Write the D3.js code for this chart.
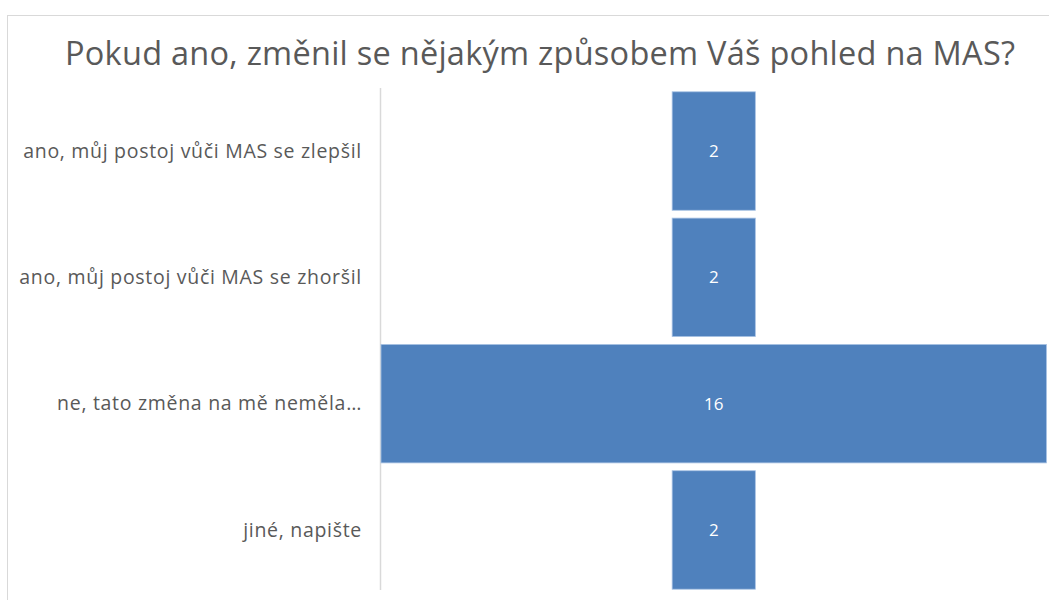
<!DOCTYPE html>
<html>
<head>
<meta charset="utf-8">
<script src="https://cdn.jsdelivr.net/npm/d3@7"></script>
<style>
  body { margin: 0; background: #fff; }
  text { font-family: "Open Sans", sans-serif; }
</style>
</head>
<body>
<svg id="chart" width="1049" height="600"></svg>
<script>
const title = 'Pokud ano, změnil se nějakým způsobem Váš pohled na MAS?';
const categories = [
  'ano, můj postoj vůči MAS se zlepšil',
  'ano, můj postoj vůči MAS se zhoršil',
  'ne, tato změna na mě neměla…',
  'jiné, napište'
];
const values = [2, 2, 16, 2];

const svg = d3.select('#chart');
const W = 1049, H = 600;

// chart frame
svg.append('rect')
  .attr('x', 7.5).attr('y', 15.5)
  .attr('width', W + 10).attr('height', H + 10)
  .attr('fill', '#fff').attr('stroke', '#d9d9d9');

svg.append('text')
  .attr('x', 540).attr('y', 65)
  .attr('text-anchor', 'middle')
  .attr('fill', '#595959')
  .style('font-size', '32.5px')
  .attr('textLength', 950)
  .text(title);

const plot = { left: 381, right: 1046.5, top: 88, bottom: 593 };

const y = d3.scaleBand()
  .domain(categories)
  .range([plot.top, plot.bottom])
  .paddingInner(0.062)
  .paddingOuter(0.03);

const w = d3.scaleLinear()
  .domain([0, d3.max(values)])
  .range([0, plot.right - plot.left]);

const cx = (plot.left + plot.right) / 2;

// category axis line
svg.append('line')
  .attr('x1', 380.5).attr('x2', 380.5)
  .attr('y1', plot.top).attr('y2', 590)
  .attr('stroke', '#d9d9d9').attr('stroke-width', 1.5);

const rows = svg.append('g').selectAll('g')
  .data(categories.map((c, i) => ({ c, v: values[i] })))
  .join('g');

rows.append('rect')
  .attr('x', d => cx - w(d.v) / 2)
  .attr('y', d => y(d.c))
  .attr('width', d => w(d.v))
  .attr('height', y.bandwidth())
  .attr('fill', '#4f81bd')
  .attr('stroke', '#a9c3e4')
  .attr('stroke-width', 0.8);

rows.append('text')
  .attr('x', cx)
  .attr('y', d => y(d.c) + y.bandwidth() / 2)
  .attr('dy', '0.35em')
  .attr('text-anchor', 'middle')
  .attr('fill', '#fff')
  .style('font-size', '17px')
  .text(d => d.v);

rows.append('text')
  .attr('x', 362)
  .attr('y', d => y(d.c) + y.bandwidth() / 2)
  .attr('dy', '0.35em')
  .attr('text-anchor', 'end')
  .attr('fill', '#595959')
  .style('font-size', '19.5px')
  .style('letter-spacing', '0.7px')
  .text(d => d.c);
</script>
</body>
</html>
